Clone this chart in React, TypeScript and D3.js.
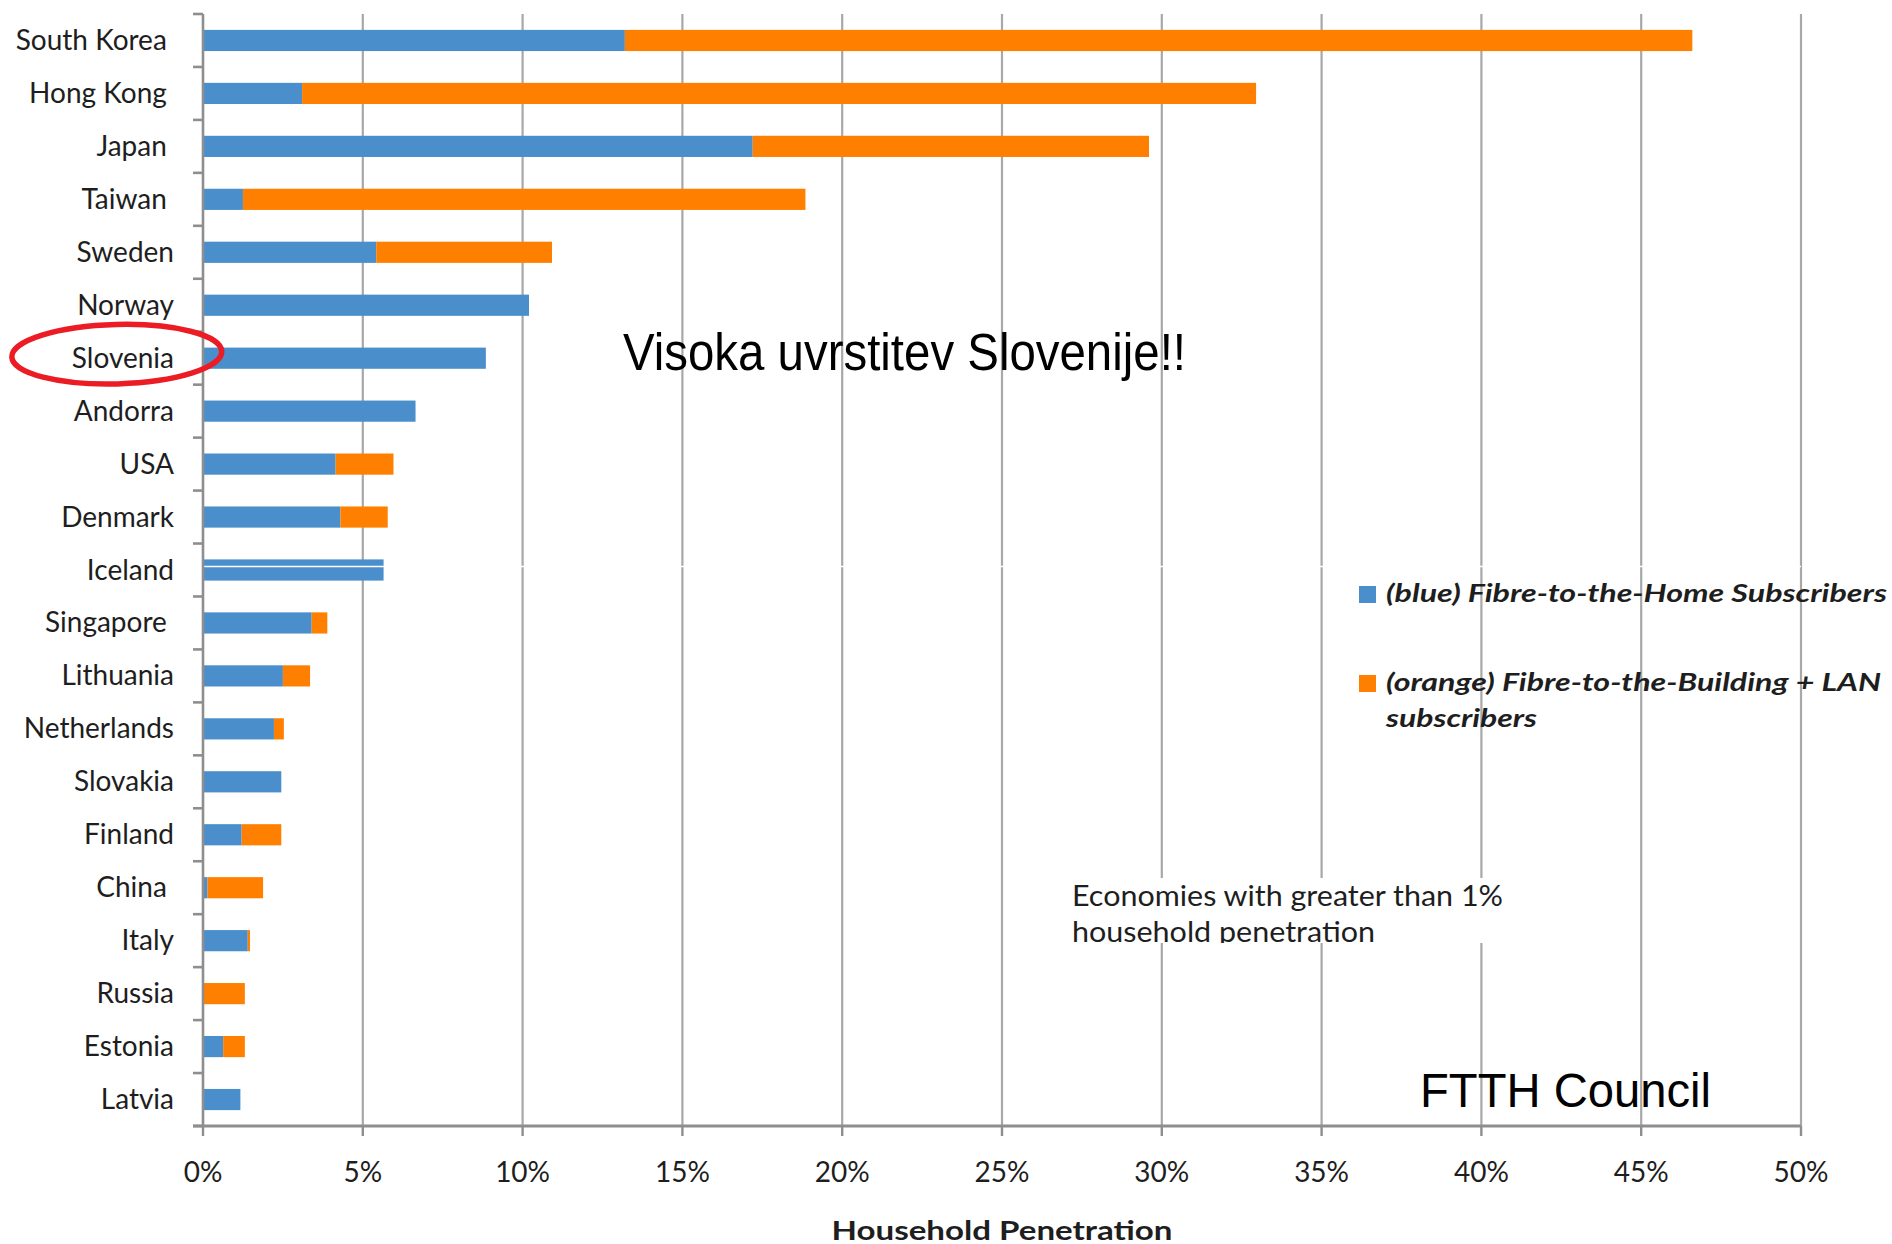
import React from 'react';
import * as d3 from 'd3';

// Economies with more than 1% household fibre penetration
const countries = [
  'South Korea ', 'Hong Kong ', 'Japan ', 'Taiwan ', 'Sweden', 'Norway', 'Slovenia',
  'Andorra', 'USA', 'Denmark', 'Iceland', 'Singapore ', 'Lithuania', 'Netherlands',
  'Slovakia', 'Finland', 'China ', 'Italy', 'Russia', 'Estonia', 'Latvia',
];
// Fibre-to-the-Home share of households (%)
const ftthHome = [
  13.2, 3.1, 17.2, 1.25, 5.42, 10.2, 8.85, 6.65, 4.15, 4.3, 5.65,
  3.4, 2.5, 2.22, 2.45, 1.21, 0.14, 1.4, 0, 0.63, 1.17,
];
// Fibre-to-the-Building + LAN share of households (%)
const fttbLan = [
  33.4, 29.85, 12.4, 17.6, 5.5, 0, 0, 0, 1.81, 1.48, 0,
  0.49, 0.85, 0.31, 0, 1.24, 1.74, 0.07, 1.31, 0.68, 0,
];
const xTicks = [0, 5, 10, 15, 20, 25, 30, 35, 40, 45, 50];
const seriesKeys = ['home', 'building'];
const seriesColors = ['#4a8fcc', '#ff8000'];
const legendLabels = [
  ['(blue) Fibre-to-the-Home Subscribers'],
  ['(orange) Fibre-to-the-Building + LAN', 'subscribers'],
];

const W = 1892;
const H = 1244;
const X0 = 203;
const X1 = 1801;
const Y0 = 14;
const Y1 = 1126;

const GRID = '#a8a8a8';
const AXIS = '#8e8e8e';
const INK = '#1e1e1e';
const LABEL_FONT = 'Lato, "Open Sans", sans-serif';
const ARIAL = '"Liberation Sans", Arial, sans-serif';

export default function App() {
  const x = d3.scaleLinear().domain([0, 50]).range([X0, X1]);
  const y = d3
    .scaleBand<string>()
    .domain(countries)
    .range([Y0, Y1])
    .paddingInner(0.6)
    .paddingOuter(0.3);

  const rows = countries.map((c, i) => ({ country: c, home: ftthHome[i], building: fttbLan[i] }));
  const stacked = d3.stack<any>().keys(seriesKeys)(rows);

  const step = y.step();
  const boundaries = d3.range(countries.length + 1).map((i) => Y0 + i * step);
  const mid = (c: string) => (y(c) as number) + y.bandwidth() / 2;

  return (
    <svg
      width={W}
      height={H}
      viewBox={`0 0 ${W} ${H}`}
      style={{ position: 'absolute', left: 0, top: 0, background: '#fff' }}
    >
      <defs>
        <clipPath id="noteClip">
          <rect x={1062} y={878} width={453} height={65} />
        </clipPath>
      </defs>
      <rect x={0} y={0} width={W} height={H} fill="#fff" />

      {/* vertical gridlines */}
      {xTicks.filter((t) => t > 0).map((t) => (
        <line key={t} x1={x(t)} x2={x(t)} y1={Y0} y2={Y1} stroke={GRID} strokeWidth={2.2} />
      ))}

      {/* stacked bars */}
      {stacked.map((layer, li) => (
        <g key={layer.key} fill={seriesColors[li]}>
          {layer.map((d, i) =>
            d[1] - d[0] > 0 ? (
              <rect
                key={i}
                x={x(d[0])}
                y={y(countries[i])}
                width={x(d[1]) - x(d[0])}
                height={y.bandwidth()}
              />
            ) : null
          )}
        </g>
      ))}

      {/* thin white seam running through the Iceland row */}
      <line x1={X0} x2={X1} y1={mid('Iceland') - 3.5} y2={mid('Iceland') - 3.5} stroke="#fff" strokeWidth={1.4} />

      {/* y axis with ticks between categories */}
      <line x1={X0} x2={X0} y1={Y0} y2={Y1} stroke={AXIS} strokeWidth={2.6} />
      {boundaries.map((b, i) => (
        <line key={i} x1={X0 - 10} x2={X0} y1={b} y2={b} stroke={AXIS} strokeWidth={2.6} />
      ))}

      {/* x axis */}
      <line x1={X0 - 10} x2={X1} y1={Y1} y2={Y1} stroke={AXIS} strokeWidth={3} />
      {xTicks.map((t) => (
        <line key={t} x1={x(t)} x2={x(t)} y1={Y1} y2={Y1 + 10} stroke={AXIS} strokeWidth={2.4} />
      ))}

      {/* category labels */}
      {countries.map((c) => (
        <text
          key={c}
          x={X0 - 29}
          y={mid(c) + 9.5}
          textAnchor="end"
          fontFamily={LABEL_FONT}
          fontSize={28}
          fill={INK}
          style={{ whiteSpace: 'pre' }}
        >
          {c}
        </text>
      ))}

      {/* x tick labels */}
      {xTicks.map((t) => (
        <text
          key={t}
          x={x(t)}
          y={1182}
          textAnchor="middle"
          fontFamily={LABEL_FONT}
          fontSize={28}
          fill={INK}
        >
          {`${t}%`}
        </text>
      ))}

      {/* axis title */}
      <text
        x={x(25)}
        y={1240}
        textAnchor="middle"
        fontFamily={LABEL_FONT}
        fontWeight="bold"
        fontSize={26}
        fill={INK}
        textLength={341}
        lengthAdjust="spacingAndGlyphs"
      >
        Household Penetration
      </text>

      {/* legend */}
      {legendLabels.map((lines, i) => {
        const top = i === 0 ? 586 : 675;
        return (
          <g key={i}>
            <rect x={1359} y={top} width={17} height={17} fill={seriesColors[i]} />
            {lines.map((ln, j) => (
              <text
                key={j}
                x={1386}
                y={top + 16 + j * 36}
                fontFamily={LABEL_FONT}
                fontStyle="italic"
                fontWeight="bold"
                fontSize={25}
                fill={INK}
                textLength={j === 0 ? (i === 0 ? 501 : 495) : 151}
                lengthAdjust="spacingAndGlyphs"
              >
                {ln}
              </text>
            ))}
          </g>
        );
      })}

      {/* note box */}
      <rect x={1062} y={878} width={453} height={65} fill="#fff" />
      <g clipPath="url(#noteClip)">
        <text x={1072} y={905.5} fontFamily={LABEL_FONT} fontSize={28} fill={INK} textLength={431} lengthAdjust="spacingAndGlyphs">
          Economies with greater than 1%
        </text>
        <text x={1072} y={941.5} fontFamily={LABEL_FONT} fontSize={28} fill={INK} textLength={303} lengthAdjust="spacingAndGlyphs">
          household penetration
        </text>
      </g>

      {/* annotations */}
      <text x={623} y={370} fontFamily={ARIAL} fontSize={51} fill="#000" textLength={563} lengthAdjust="spacingAndGlyphs">
        Visoka uvrstitev Slovenije!!
      </text>
      <text x={1420} y={1106.5} fontFamily={ARIAL} fontSize={47.5} fill="#000" textLength={291} lengthAdjust="spacingAndGlyphs">
        FTTH Council
      </text>

      {/* highlight ring around Slovenia */}
      <ellipse
        cx={116.8}
        cy={mid('Slovenia') - 4}
        rx={105}
        ry={29.7}
        fill="none"
        stroke="#ec1c24"
        strokeWidth={5.5}
        transform={`rotate(-1.5 116.8 ${mid('Slovenia') - 4})`}
      />
    </svg>
  );
}
